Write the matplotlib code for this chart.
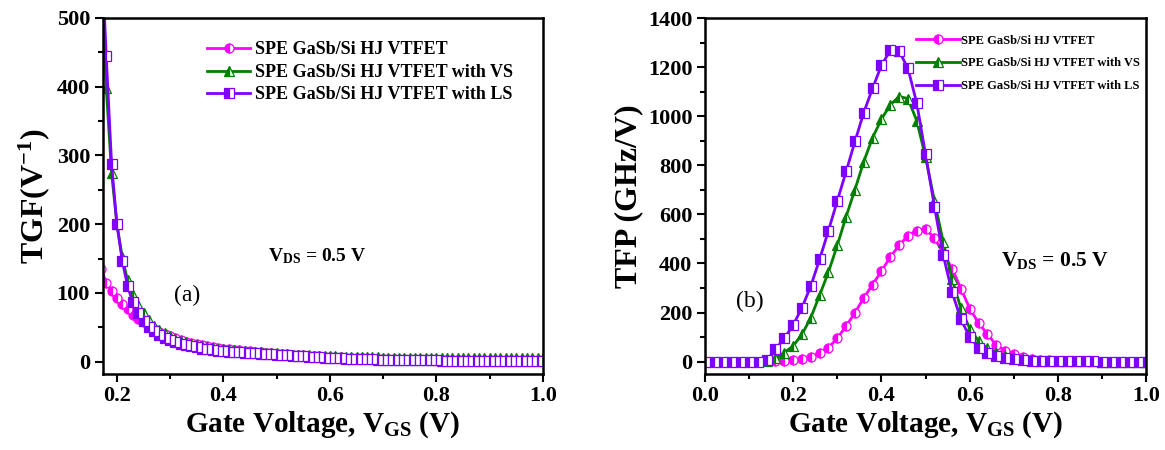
import numpy as np
import matplotlib
matplotlib.use("Agg")
import matplotlib.pyplot as plt
from matplotlib.ticker import MultipleLocator

plt.rcParams["font.family"] = ["Liberation Serif", "DejaVu Serif"]
plt.rcParams["mathtext.fontset"] = "custom"
plt.rcParams["mathtext.rm"] = "Liberation Serif:bold"
plt.rcParams["mathtext.it"] = "Liberation Serif:bold"
plt.rcParams["mathtext.bf"] = "Liberation Serif:bold"
plt.rcParams["mathtext.default"] = "rm"

# ---------------- data ----------------
labels = ["SPE GaSb/Si HJ VTFET",
          "SPE GaSb/Si HJ VTFET with VS",
          "SPE GaSb/Si HJ VTFET with LS"]
colors = ["#FF00FF", "#008000", "#7F00FF"]
markers = ["o", "^", "s"]

# (a) transconductance generation factor, V_GS = 0.17 ... 1.00 V, step 0.01
vgs_a = np.round(np.arange(0.17, 1.0001, 0.01), 2)
tgf_base = [135, 115, 103, 93, 84, 76, 68, 62, 57, 52, 47, 43, 40, 37,
            34, 31, 29, 27, 25, 23.5, 22, 21, 20, 19,
            18, 17.2, 16.4, 15.6, 14.9, 14.2, 13.5, 12.9, 12.3, 11.7,
            11.1, 10.5, 10, 9.5, 9, 8.5, 8, 7.6, 7.2, 6.8,
            6.4, 6, 5.6, 5.3, 5, 4.7, 4.4, 4.1, 3.8, 3.5,
            3.3, 3.1, 2.9, 2.7, 2.5, 2.3, 2.1, 2.0, 1.9, 1.8,
            1.7, 1.7, 1.6, 1.6, 1.5, 1.5, 1.4, 1.4, 1.3, 1.3,
            1.3, 1.2, 1.2, 1.2, 1.1, 1.1, 1.1, 1.0, 1.0, 1.0]
tgf_vs = [580, 398, 275, 200, 152, 118, 97, 82, 70, 60, 52, 46, 41, 37,
          33, 30, 28, 26, 24, 22.5, 21, 20, 19, 18,
          17.2, 16.5, 15.8, 15.1, 14.5, 13.9, 13.3, 12.8, 12.3, 11.8,
          11.3, 10.8, 10.3, 9.9, 9.5, 9.1, 8.7, 8.4, 8.1, 7.8,
          7.5, 7.3, 7.1, 6.9, 6.7, 6.5, 6.3, 6.1, 6.0, 5.9,
          5.8, 5.7, 5.6, 5.5, 5.4, 5.3, 5.2, 5.1, 5.0, 5.0,
          4.9, 4.9, 4.9, 4.8, 4.8, 4.8, 4.7, 4.7, 4.7, 4.7,
          4.6, 4.6, 4.6, 4.6, 4.6, 4.5, 4.5, 4.5, 4.5, 4.5]
tgf_ls = [620, 444, 288, 200, 147, 110, 86, 70, 59, 51, 44, 39, 35, 31,
          28, 26, 24, 22, 20.5, 19, 18, 17, 16, 15,
          14.5, 14, 13.5, 13, 12.5, 12, 11.5, 11, 10.5, 10,
          9.5, 9, 8.5, 8, 7.5, 7, 6.6, 6.2, 5.8, 5.4,
          5.0, 4.7, 4.4, 4.1, 3.8, 3.5, 3.3, 3.1, 2.9, 2.7,
          2.5, 2.4, 2.3, 2.2, 2.1, 2.0, 1.9, 1.8, 1.7, 1.6,
          1.5, 1.5, 1.4, 1.4, 1.3, 1.3, 1.3, 1.2, 1.2, 1.2,
          1.1, 1.1, 1.1, 1.1, 1.0, 1.0, 1.0, 1.0, 1.0, 1.0]

# (b) transconductance frequency product, V_GS = 0.00 ... 1.00 V, step 0.02
vgs_b = np.round(np.arange(0.0, 1.0001, 0.02), 2)
tfp_base = [0, 0, 0, 0, 0, 0, 0, 1,
            2, 4, 6, 12, 19, 34, 57, 95, 145, 199, 260, 314, 369, 426, 474,
            513, 534, 539, 505, 440, 379, 298, 216, 158, 112, 68, 45, 31,
            18, 11, 7, 5, 3,
            2, 1.5, 1, 1, 0.5, 0.5, 0.5, 0.5, 0.5, 0.5]
vgs_b_vs = vgs_b[7:]
tfp_vs = [3,
          14, 37, 64, 111, 179, 271, 365, 474, 591, 701, 815, 913, 988,
          1046, 1080, 1072, 981, 832, 656, 487, 337, 217, 135, 84, 54, 37,
          23, 15, 10, 6, 4, 2,
          2, 1.5, 1, 1, 1, 0.5, 0.5, 0.5, 0.5, 0.5, 0.5]
tfp_ls = [0, 0, 0, 0, 0, 0, 0, 5,
          50, 95, 149, 220, 308, 417, 534, 655, 775, 897, 1015, 1114, 1207,
          1268, 1265, 1195, 1053, 844, 632, 433, 283, 172, 101, 57, 37, 23,
          15, 9, 6, 4, 3, 2, 1.5,
          1, 1, 1, 1, 0.5, 0.5, 0.5, 0.5, 0.5, 0.5]

# ---------------- figure ----------------
fig = plt.figure(figsize=(11.65, 4.5), dpi=100)
ax1 = fig.add_axes([0.088, 0.169, 0.378, 0.791])
ax2 = fig.add_axes([0.605, 0.169, 0.379, 0.791])


def style_axes(ax):
    for sp in ax.spines.values():
        sp.set_linewidth(1.8)
    ax.tick_params(which="both", direction="out", top=False, right=False,
                   width=1.5, labelsize=16)
    ax.tick_params(which="major", length=6, pad=3)
    ax.tick_params(which="minor", length=3.5)
    for lab in ax.get_xticklabels() + ax.get_yticklabels():
        lab.set_fontweight("bold")


def draw(ax, x, y, i, ms):
    ax.plot(x, y, color=colors[i], lw=2.0, marker=markers[i], ms=ms,
            fillstyle="left", markerfacecolor=colors[i],
            markerfacecoloralt="white", markeredgecolor=colors[i],
            markeredgewidth=0.9, label=labels[i])


# panel (a)
draw(ax1, vgs_a, tgf_base, 0, 6.5)
draw(ax1, vgs_a, tgf_vs, 1, 6.5)
draw(ax1, vgs_a, tgf_ls, 2, 6.5)
ax1.set_xlim(0.173, 1.0)
ax1.set_ylim(-18, 500)
ax1.xaxis.set_major_locator(MultipleLocator(0.2))
ax1.xaxis.set_minor_locator(MultipleLocator(0.1))
ax1.yaxis.set_major_locator(MultipleLocator(100))
ax1.yaxis.set_minor_locator(MultipleLocator(50))
ax1.set_xticks([0.2, 0.4, 0.6, 0.8, 1.0])
style_axes(ax1)
ax1.set_xlabel("Gate Voltage, V$_{GS}$ (V)", fontsize=21, fontweight="bold",
               labelpad=2)
ax1.set_ylabel("TGF(V$^{-1}$)", fontsize=23, fontweight="bold", labelpad=3)
ax1.legend(loc="upper left", bbox_to_anchor=(0.237, 0.934), frameon=False,
           prop={"family": "Liberation Serif", "weight": "bold", "size": 13},
           handlelength=2.4, handletextpad=0.25, labelspacing=0.3,
           borderpad=0, borderaxespad=0, numpoints=1)
ax1.text(0.375, 0.33, "V$_{DS}$ = 0.5 V", transform=ax1.transAxes,
         fontsize=14, fontweight="bold", ha="left", va="center")
ax1.text(0.163, 0.22, "(a)", transform=ax1.transAxes, fontsize=17,
         ha="left", va="center")

# panel (b)
draw(ax2, vgs_b, tfp_base, 0, 6.5)
draw(ax2, vgs_b_vs, tfp_vs, 1, 6.5)
draw(ax2, vgs_b, tfp_ls, 2, 6.5)
ax2.set_xlim(0.0, 1.0)
ax2.set_ylim(-50, 1400)
ax2.xaxis.set_major_locator(MultipleLocator(0.2))
ax2.xaxis.set_minor_locator(MultipleLocator(0.1))
ax2.yaxis.set_major_locator(MultipleLocator(200))
ax2.yaxis.set_minor_locator(MultipleLocator(100))
style_axes(ax2)
ax2.set_xlabel("Gate Voltage, V$_{GS}$ (V)", fontsize=21, fontweight="bold",
               labelpad=2)
ax2.set_ylabel("TFP (GHz/V)", fontsize=23, fontweight="bold", labelpad=3)
ax2.legend(loc="upper left", bbox_to_anchor=(0.479, 0.953), frameon=False,
           prop={"family": "Liberation Serif", "weight": "bold", "size": 9},
           handlelength=3.5, handletextpad=0.1, labelspacing=0.85,
           borderpad=0, borderaxespad=0, numpoints=1)
ax2.text(0.670, 0.32, "V$_{DS}$ = 0.5 V", transform=ax2.transAxes,
         fontsize=15.5, fontweight="bold", ha="left", va="center")
ax2.text(0.07, 0.205, "(b)", transform=ax2.transAxes, fontsize=17,
         ha="left", va="center")

fig.savefig("out.png", dpi=100)
